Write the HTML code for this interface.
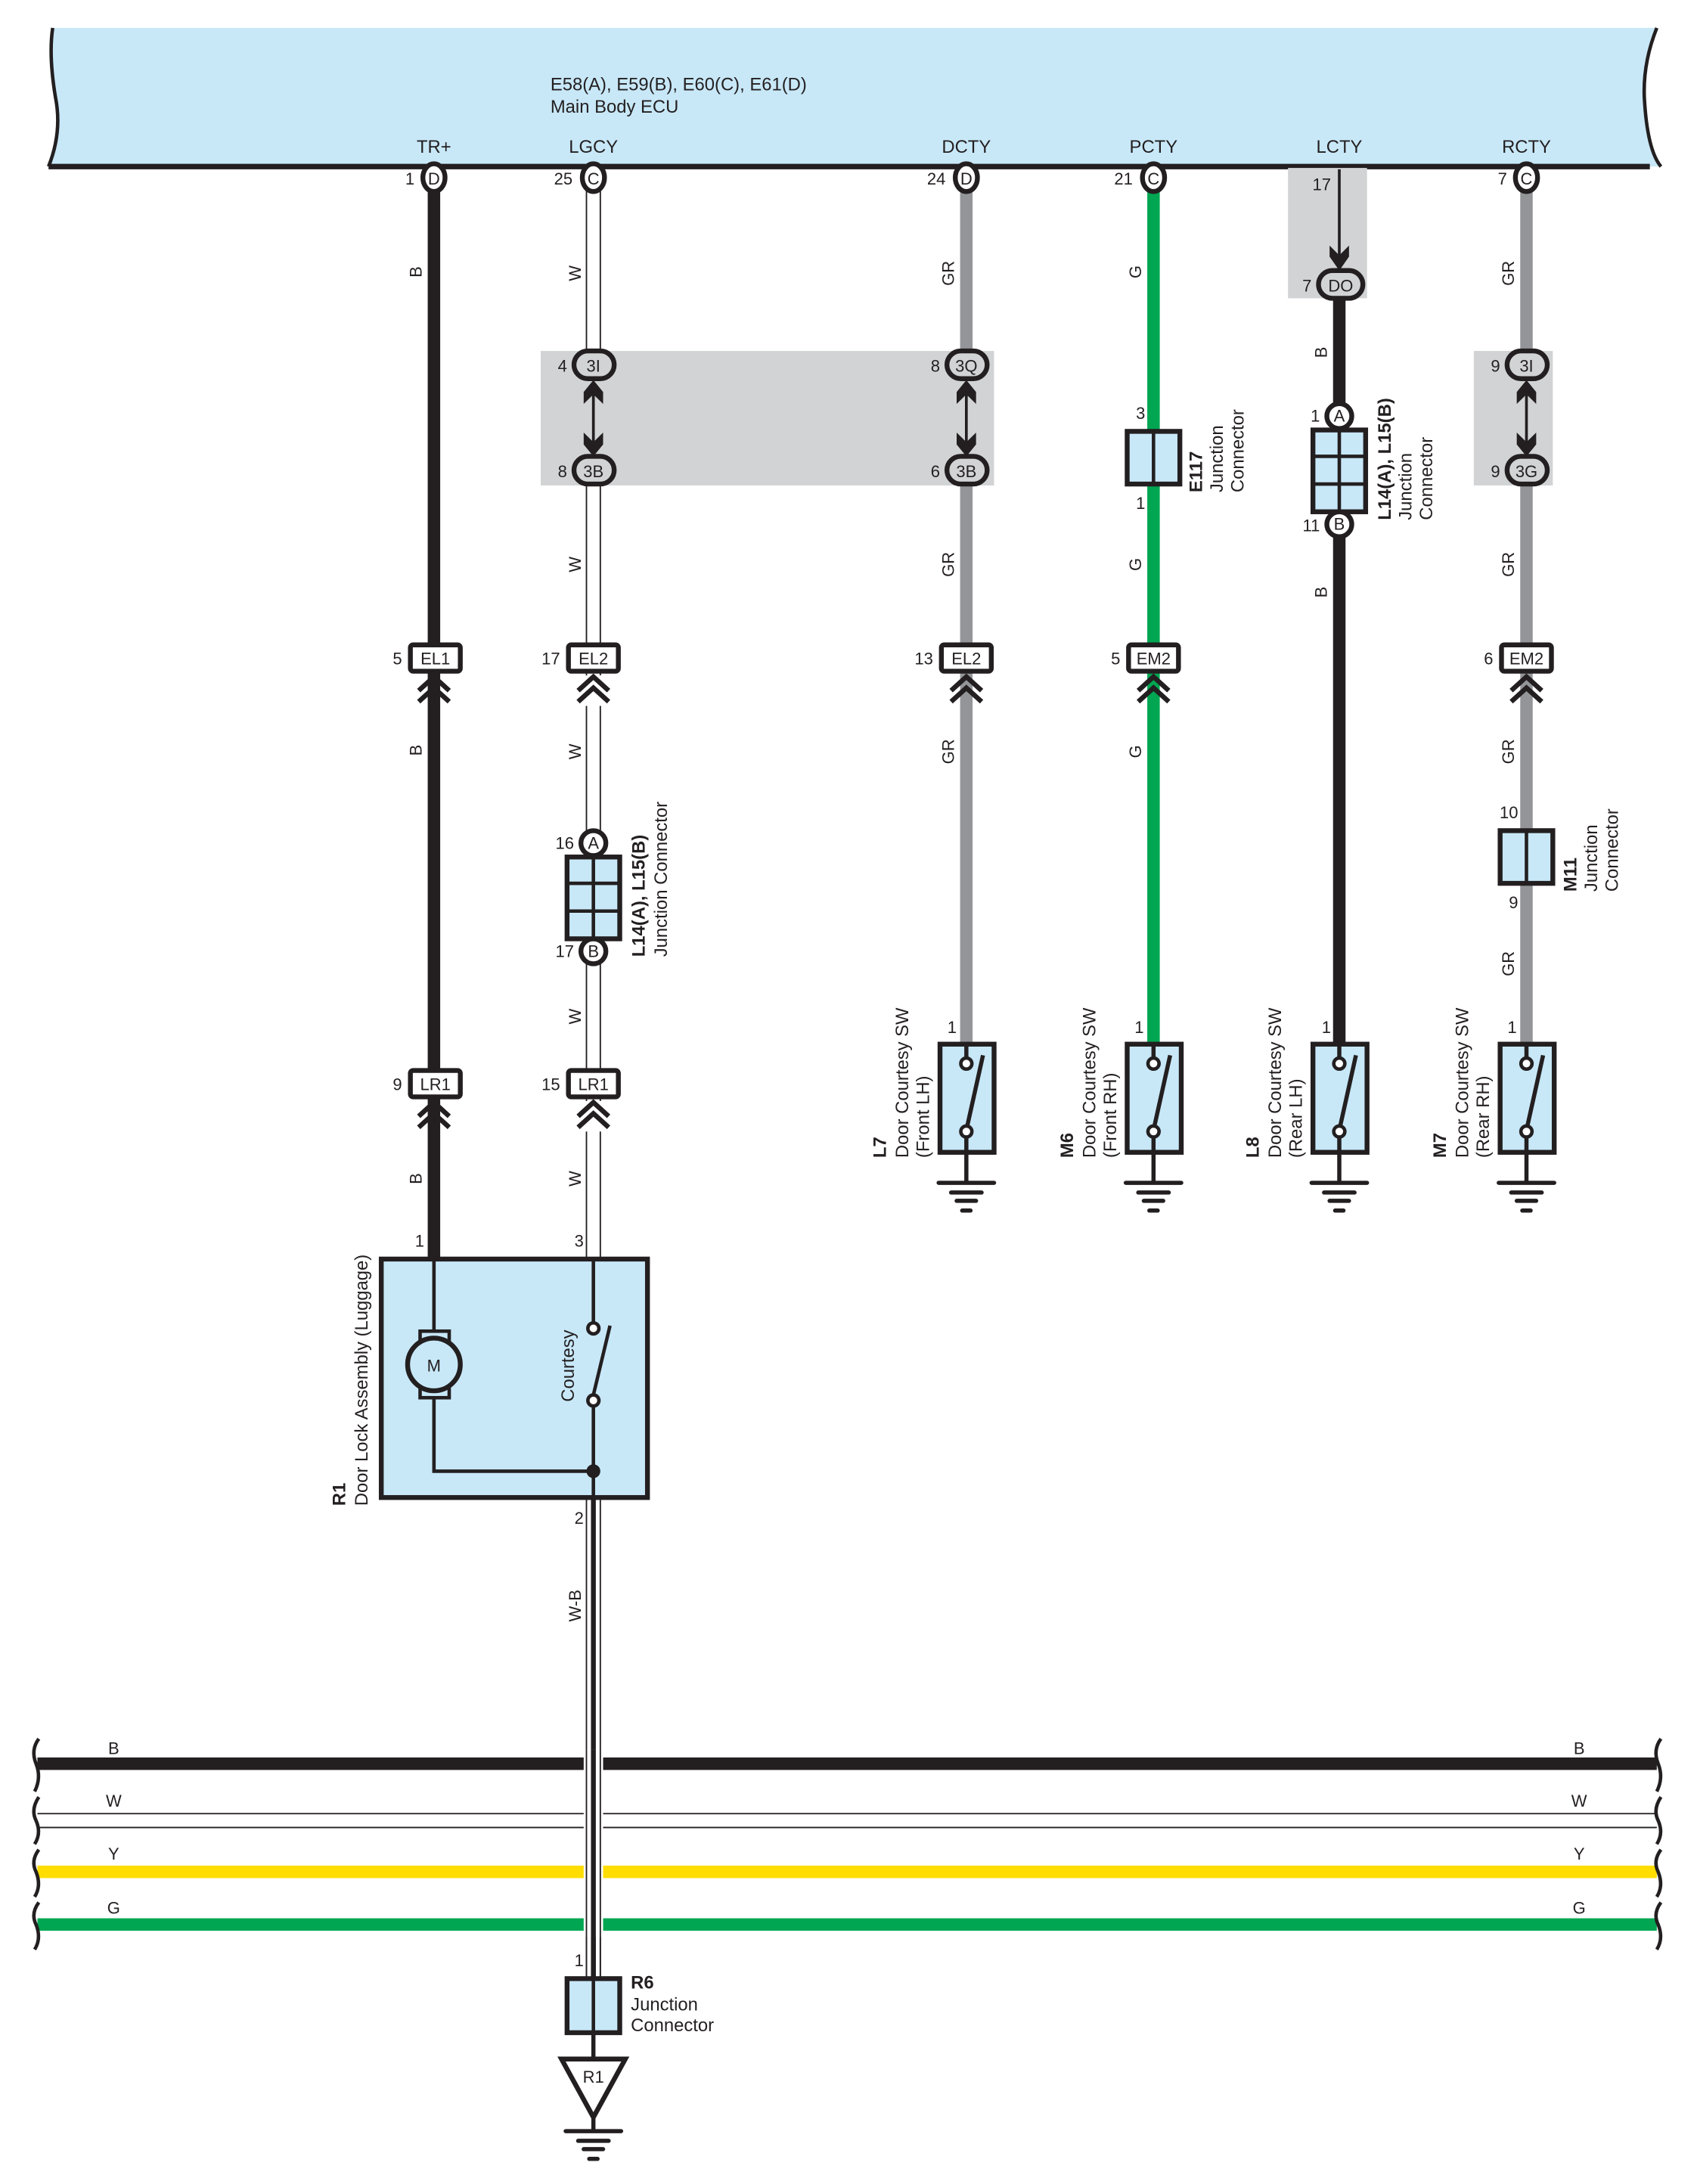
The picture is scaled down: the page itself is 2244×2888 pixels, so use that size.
<!DOCTYPE html>
<html><head><meta charset="utf-8"><style>
html,body{margin:0;padding:0;background:#fff}
svg{display:block}
text{font-family:"Liberation Sans",sans-serif;fill:#231f20}
</style></head><body>
<svg width="2244" height="2888" viewBox="0 0 1224 1575" xmlns="http://www.w3.org/2000/svg">
<defs>
<g id="gnd" stroke="#231f20" stroke-width="3" stroke-linecap="round">
<line x1="-20" y1="0" x2="20" y2="0"/><line x1="-11" y1="7" x2="11" y2="7"/><line x1="-7" y1="13" x2="7" y2="13"/><line x1="-3" y1="20" x2="3" y2="20"/>
</g>
<g id="chev" fill="none" stroke="#231f20" stroke-width="3.5">
<polyline points="-11,14 0,4 11,14"/><polyline points="-11,22 0,12 11,22"/>
</g>
<g id="darr" fill="#231f20">
<line x1="0" y1="2" x2="0" y2="62" stroke="#231f20" stroke-width="2"/>
<polygon points="0,0 7,10 7,20 0,12 -7,20 -7,10"/>
<polygon points="0,64 7,54 7,44 0,52 -7,44 -7,54"/>
</g>
<g id="sw">
<rect x="-19" y="0" width="39" height="78" fill="#c8e8f8" stroke="#231f20" stroke-width="3.5"/>
<line x1="0" y1="0" x2="0" y2="10" stroke="#231f20" stroke-width="3"/>
<circle cx="0" cy="14" r="4" fill="#fff" stroke="#231f20" stroke-width="2.5"/>
<line x1="0" y1="62" x2="12" y2="8" stroke="#231f20" stroke-width="3"/>
<circle cx="0" cy="63" r="4" fill="#fff" stroke="#231f20" stroke-width="2.5"/>
<line x1="0" y1="67" x2="0" y2="100" stroke="#231f20" stroke-width="3"/>
<use href="#gnd" y="100"/>
</g>
</defs>

<!-- header -->
<path d="M38,20 L1195,20 Q1185,45 1186,70 Q1188,108 1198,120 L35,120 Q45,95 40,70 Q35,40 38,20 Z" fill="#c8e8f8"/>
<path d="M38,20 Q35,40 40,70 Q45,95 35,120" fill="none" stroke="#231f20" stroke-width="2.5"/>
<path d="M1195,20 Q1185,45 1186,70 Q1188,108 1198,120" fill="none" stroke="#231f20" stroke-width="2.5"/>
<line x1="35" y1="120" x2="1190" y2="120" stroke="#231f20" stroke-width="4"/>
<text x="397" y="65" font-size="13">E58(A), E59(B), E60(C), E61(D)</text>
<text x="397" y="81" font-size="13">Main Body ECU</text>
<g font-size="13" text-anchor="middle">
<text x="313" y="110">TR+</text><text x="428" y="110">LGCY</text><text x="697" y="110">DCTY</text>
<text x="832" y="110">PCTY</text><text x="966" y="110">LCTY</text><text x="1101" y="110">RCTY</text>
</g>

<!-- gray boxes -->
<rect x="390" y="253" width="327" height="97" fill="#d1d3d4"/>
<rect x="929" y="121" width="57" height="94" fill="#d1d3d4"/>
<rect x="1063" y="253" width="57" height="97" fill="#d1d3d4"/>

<!-- wires -->
<line x1="313" y1="130" x2="313" y2="907" stroke="#231f20" stroke-width="9"/>
<g stroke="#231f20" stroke-width="1">
<line x1="423" y1="130" x2="423" y2="255"/><line x1="433" y1="130" x2="433" y2="255"/>
<line x1="423" y1="347" x2="423" y2="1426"/><line x1="433" y1="347" x2="433" y2="1426"/>
</g>
<line x1="697" y1="130" x2="697" y2="255" stroke="#939598" stroke-width="9"/>
<line x1="697" y1="347" x2="697" y2="753" stroke="#939598" stroke-width="9"/>
<line x1="832" y1="130" x2="832" y2="753" stroke="#00a651" stroke-width="9"/>
<line x1="966" y1="122" x2="966" y2="190" stroke="#231f20" stroke-width="2"/>
<line x1="966" y1="205" x2="966" y2="753" stroke="#231f20" stroke-width="9"/>
<line x1="1101" y1="130" x2="1101" y2="255" stroke="#939598" stroke-width="9"/>
<line x1="1101" y1="347" x2="1101" y2="753" stroke="#939598" stroke-width="9"/>
<line x1="428" y1="1080" x2="428" y2="1426" stroke="#231f20" stroke-width="3.5"/>

<!-- pin circles top -->
<g stroke="#231f20" stroke-width="3.5" fill="#fff">
<ellipse cx="313" cy="128" rx="8" ry="10"/><ellipse cx="428" cy="128" rx="8" ry="10"/>
<ellipse cx="697" cy="128" rx="8" ry="10"/><ellipse cx="832" cy="128" rx="8" ry="10"/>
<ellipse cx="1101" cy="128" rx="8" ry="10"/>
</g>
<g font-size="12" text-anchor="middle">
<text x="313" y="133">D</text><text x="428" y="133">C</text><text x="697" y="133">D</text><text x="832" y="133">C</text><text x="1101" y="133">C</text>
</g>
<g font-size="12" text-anchor="end">
<text x="299" y="133">1</text><text x="413" y="133">25</text><text x="682" y="133">24</text><text x="817" y="133">21</text><text x="1087" y="133">7</text>
<text x="960" y="137">17</text>
</g>

<!-- ovals in gray boxes -->
<g stroke="#231f20" stroke-width="3.5" fill="#d1d3d4">
<rect x="414" y="253" width="29" height="20" rx="10"/><rect x="414" y="329" width="29" height="20" rx="10"/>
<rect x="683" y="253" width="29" height="20" rx="10"/><rect x="683" y="329" width="29" height="20" rx="10"/>
<rect x="1087" y="253" width="29" height="20" rx="10"/><rect x="1087" y="329" width="29" height="20" rx="10"/>
<rect x="951" y="195" width="32" height="20" rx="10"/>
</g>
<g font-size="12" text-anchor="middle">
<text x="428" y="268">3I</text><text x="428" y="344">3B</text><text x="697" y="268">3Q</text><text x="697" y="344">3B</text>
<text x="1101" y="268">3I</text><text x="1101" y="344">3G</text><text x="967" y="210">DO</text>
</g>
<g font-size="12" text-anchor="end">
<text x="409" y="268">4</text><text x="409" y="344">8</text><text x="678" y="268">8</text><text x="678" y="344">6</text>
<text x="1082" y="268">9</text><text x="1082" y="344">9</text><text x="946" y="210">7</text>
</g>
<g transform="translate(428,274) scale(1,0.86)"><use href="#darr"/></g>
<g transform="translate(697,274) scale(1,0.86)"><use href="#darr"/></g>
<g transform="translate(1101,274) scale(1,0.86)"><use href="#darr"/></g>
<polygon points="966,195 973,185 973,177 966,184 959,177 959,185" fill="#231f20"/>

<!-- EL/EM/LR connectors -->
<g stroke="#231f20" stroke-width="3.5" fill="#fff">
<rect x="296" y="465" width="36" height="19" rx="2"/><rect x="410" y="465" width="36" height="19" rx="2"/>
<rect x="679" y="465" width="36" height="19" rx="2"/><rect x="814" y="465" width="36" height="19" rx="2"/>
<rect x="1083" y="465" width="36" height="19" rx="2"/>
<rect x="296" y="772" width="36" height="19" rx="2"/><rect x="410" y="772" width="36" height="19" rx="2"/>
</g>
<g font-size="12" text-anchor="middle">
<text x="314" y="479">EL1</text><text x="428" y="479">EL2</text><text x="697" y="479">EL2</text><text x="832" y="479">EM2</text><text x="1101" y="479">EM2</text>
<text x="314" y="786">LR1</text><text x="428" y="786">LR1</text>
</g>
<g font-size="12" text-anchor="end">
<text x="290" y="479">5</text><text x="404" y="479">17</text><text x="673" y="479">13</text><text x="808" y="479">5</text><text x="1077" y="479">6</text>
<text x="290" y="786">9</text><text x="404" y="786">15</text>
</g>
<g fill="#fff"><rect x="422" y="487" width="12" height="22"/><rect x="422" y="794" width="12" height="22"/></g>
<use href="#chev" x="313" y="484"/><use href="#chev" x="428" y="484"/><use href="#chev" x="697" y="484"/>
<use href="#chev" x="832" y="484"/><use href="#chev" x="1101" y="484"/>
<use href="#chev" x="313" y="791"/><use href="#chev" x="428" y="791"/>

<!-- wire labels -->
<g font-size="12" text-anchor="middle">
<text transform="translate(304,196) rotate(-90)">B</text><text transform="translate(304,541) rotate(-90)">B</text><text transform="translate(304,850) rotate(-90)">B</text>
<text transform="translate(419,197) rotate(-90)">W</text><text transform="translate(419,407) rotate(-90)">W</text><text transform="translate(419,542) rotate(-90)">W</text>
<text transform="translate(419,733) rotate(-90)">W</text><text transform="translate(419,850) rotate(-90)">W</text>
<text transform="translate(419,1158) rotate(-90)">W-B</text>
<text transform="translate(688,197) rotate(-90)">GR</text><text transform="translate(688,407) rotate(-90)">GR</text><text transform="translate(688,542) rotate(-90)">GR</text>
<text transform="translate(823,196) rotate(-90)">G</text><text transform="translate(823,407) rotate(-90)">G</text><text transform="translate(823,542) rotate(-90)">G</text>
<text transform="translate(957,254) rotate(-90)">B</text><text transform="translate(957,427) rotate(-90)">B</text>
<text transform="translate(1092,197) rotate(-90)">GR</text><text transform="translate(1092,407) rotate(-90)">GR</text><text transform="translate(1092,542) rotate(-90)">GR</text><text transform="translate(1092,695) rotate(-90)">GR</text>
</g>

<!-- junction connectors L14 -->
<g stroke="#231f20" stroke-width="3.5" fill="#fff">
<circle cx="428" cy="608" r="9"/><circle cx="428" cy="686" r="9"/>
<circle cx="966" cy="300" r="9"/><circle cx="966" cy="378" r="9"/>
</g>
<g stroke="#231f20" stroke-width="3.5" fill="#c8e8f8">
<rect x="409" y="618" width="38" height="59"/><rect x="947" y="310" width="38" height="59"/>
</g>
<g stroke="#231f20" stroke-width="2.5">
<line x1="428" y1="618" x2="428" y2="677"/><line x1="409" y1="637" x2="447" y2="637"/><line x1="409" y1="657" x2="447" y2="657"/>
<line x1="966" y1="310" x2="966" y2="369"/><line x1="947" y1="329" x2="985" y2="329"/><line x1="947" y1="349" x2="985" y2="349"/>
</g>
<g font-size="12" text-anchor="middle">
<text x="428" y="612">A</text><text x="428" y="690">B</text><text x="966" y="304">A</text><text x="966" y="382">B</text>
</g>
<g font-size="12" text-anchor="end">
<text x="414" y="612">16</text><text x="414" y="690">17</text><text x="952" y="304">1</text><text x="952" y="383">11</text>
</g>
<text transform="translate(465,690) rotate(-90)" font-size="13" font-weight="bold">L14(A), L15(B)</text>
<text transform="translate(481,690) rotate(-90)" font-size="13">Junction Connector</text>
<text transform="translate(1003,375) rotate(-90)" font-size="13" font-weight="bold">L14(A), L15(B)</text>
<text transform="translate(1018,375) rotate(-90)" font-size="13">Junction</text>
<text transform="translate(1033,375) rotate(-90)" font-size="13">Connector</text>

<!-- E117, M11 -->
<g stroke="#231f20" stroke-width="3.5" fill="#c8e8f8">
<rect x="813" y="311" width="38" height="38"/><rect x="1082" y="599" width="38" height="38"/>
</g>
<g stroke="#231f20" stroke-width="2.5"><line x1="832" y1="311" x2="832" y2="349"/><line x1="1101" y1="599" x2="1101" y2="637"/></g>
<g font-size="12" text-anchor="end">
<text x="826" y="302">3</text><text x="826" y="367">1</text><text x="1095" y="590">10</text><text x="1095" y="655">9</text>
</g>
<text transform="translate(867,355) rotate(-90)" font-size="13" font-weight="bold">E117</text>
<text transform="translate(882,355) rotate(-90)" font-size="13">Junction</text>
<text transform="translate(897,355) rotate(-90)" font-size="13">Connector</text>
<text transform="translate(1137,643) rotate(-90)" font-size="13" font-weight="bold">M11</text>
<text transform="translate(1152,643) rotate(-90)" font-size="13">Junction</text>
<text transform="translate(1167,643) rotate(-90)" font-size="13">Connector</text>

<!-- switches -->
<use href="#sw" x="697" y="753"/><use href="#sw" x="832" y="753"/><use href="#sw" x="966" y="753"/><use href="#sw" x="1101" y="753"/>
<g font-size="12" text-anchor="end">
<text x="690" y="745">1</text><text x="825" y="745">1</text><text x="960" y="745">1</text><text x="1094" y="745">1</text>
</g>
<g font-size="13">
<text transform="translate(639,835) rotate(-90)" font-weight="bold">L7</text>
<text transform="translate(655,835) rotate(-90)">Door Courtesy SW</text>
<text transform="translate(670,835) rotate(-90)">(Front LH)</text>
<text transform="translate(774,835) rotate(-90)" font-weight="bold">M6</text>
<text transform="translate(790,835) rotate(-90)">Door Courtesy SW</text>
<text transform="translate(805,835) rotate(-90)">(Front RH)</text>
<text transform="translate(908,835) rotate(-90)" font-weight="bold">L8</text>
<text transform="translate(924,835) rotate(-90)">Door Courtesy SW</text>
<text transform="translate(939,835) rotate(-90)">(Rear LH)</text>
<text transform="translate(1043,835) rotate(-90)" font-weight="bold">M7</text>
<text transform="translate(1059,835) rotate(-90)">Door Courtesy SW</text>
<text transform="translate(1074,835) rotate(-90)">(Rear RH)</text>
</g>

<!-- R1 door lock -->
<rect x="275" y="908" width="192" height="172" fill="#c8e8f8" stroke="#231f20" stroke-width="3.5"/>
<g stroke="#231f20" stroke-width="2.5" fill="none">
<polyline points="313,908 313,962"/>
<polyline points="313,1006 313,1061 428,1061"/>
<line x1="428" y1="908" x2="428" y2="954"/>
<line x1="428" y1="1012" x2="428" y2="1080"/>
<line x1="428" y1="1006" x2="440" y2="956"/>
<rect x="303" y="960" width="21" height="10" fill="#c8e8f8"/>
<rect x="303" y="998" width="21" height="10" fill="#c8e8f8"/>
<circle cx="313" cy="984" r="19" fill="#c8e8f8" stroke-width="3.5"/>
<circle cx="428" cy="958" r="4" fill="#fff"/>
<circle cx="428" cy="1010" r="4" fill="#fff"/>
</g>
<circle cx="428" cy="1061" r="5" fill="#231f20"/>
<text x="313" y="989" font-size="12" text-anchor="middle">M</text>
<text transform="translate(414,1011) rotate(-90)" font-size="13">Courtesy</text>
<text x="306" y="899" font-size="12" text-anchor="end">1</text>
<text x="421" y="899" font-size="12" text-anchor="end">3</text>
<text x="421" y="1099" font-size="12" text-anchor="end">2</text>
<text transform="translate(249,1086) rotate(-90)" font-size="13" font-weight="bold">R1</text>
<text transform="translate(265,1086) rotate(-90)" font-size="13">Door Lock Assembly (Luggage)</text>

<!-- bus -->
<line x1="27" y1="1272" x2="1195" y2="1272" stroke="#231f20" stroke-width="9"/>
<line x1="27" y1="1308" x2="1195" y2="1308" stroke="#231f20" stroke-width="1"/>
<line x1="27" y1="1318" x2="1195" y2="1318" stroke="#231f20" stroke-width="1"/>
<line x1="27" y1="1350" x2="1195" y2="1350" stroke="#ffdd00" stroke-width="9"/>
<line x1="27" y1="1388" x2="1195" y2="1388" stroke="#00a651" stroke-width="9"/>
<rect x="421" y="1262" width="14" height="135" fill="#fff"/>
<g stroke="#231f20" stroke-width="1">
<line x1="423" y1="1262" x2="423" y2="1426"/><line x1="433" y1="1262" x2="433" y2="1426"/>
</g>
<line x1="428" y1="1262" x2="428" y2="1426" stroke="#231f20" stroke-width="3.5"/>
<g fill="none" stroke="#231f20" stroke-width="2.5">
<path d="M28,1254 Q22,1262 26,1272 Q30,1282 25,1292"/><path d="M28,1296 Q22,1305 26,1313 Q30,1322 25,1330"/>
<path d="M28,1334 Q22,1342 26,1350 Q30,1360 25,1368"/><path d="M28,1372 Q22,1380 26,1388 Q30,1398 25,1406"/>
<path d="M1198,1254 Q1192,1262 1196,1272 Q1200,1282 1195,1292"/><path d="M1198,1296 Q1192,1305 1196,1313 Q1200,1322 1195,1330"/>
<path d="M1198,1334 Q1192,1342 1196,1350 Q1200,1360 1195,1368"/><path d="M1198,1372 Q1192,1380 1196,1388 Q1200,1398 1195,1406"/>
</g>
<g font-size="12" text-anchor="middle">
<text x="82" y="1265">B</text><text x="82" y="1303">W</text><text x="82" y="1341">Y</text><text x="82" y="1380">G</text>
<text x="1139" y="1265">B</text><text x="1139" y="1303">W</text><text x="1139" y="1341">Y</text><text x="1139" y="1380">G</text>
</g>

<!-- R6 & ground -->
<text x="421" y="1418" font-size="12" text-anchor="end">1</text>
<rect x="409" y="1427" width="38" height="39" fill="#c8e8f8" stroke="#231f20" stroke-width="3.5"/>
<line x1="428" y1="1427" x2="428" y2="1466" stroke="#231f20" stroke-width="2.5"/>
<line x1="428" y1="1466" x2="428" y2="1484" stroke="#231f20" stroke-width="3"/>
<text x="455" y="1434" font-size="13" font-weight="bold">R6</text>
<text x="455" y="1450" font-size="13">Junction</text>
<text x="455" y="1465" font-size="13">Connector</text>
<polygon points="405,1485 451,1485 428,1527" fill="#fff" stroke="#231f20" stroke-width="3.5"/>
<text x="428" y="1502" font-size="12" text-anchor="middle">R1</text>
<line x1="428" y1="1527" x2="428" y2="1537" stroke="#231f20" stroke-width="3"/>
<use href="#gnd" x="428" y="1537"/>
</svg>
</body></html>
